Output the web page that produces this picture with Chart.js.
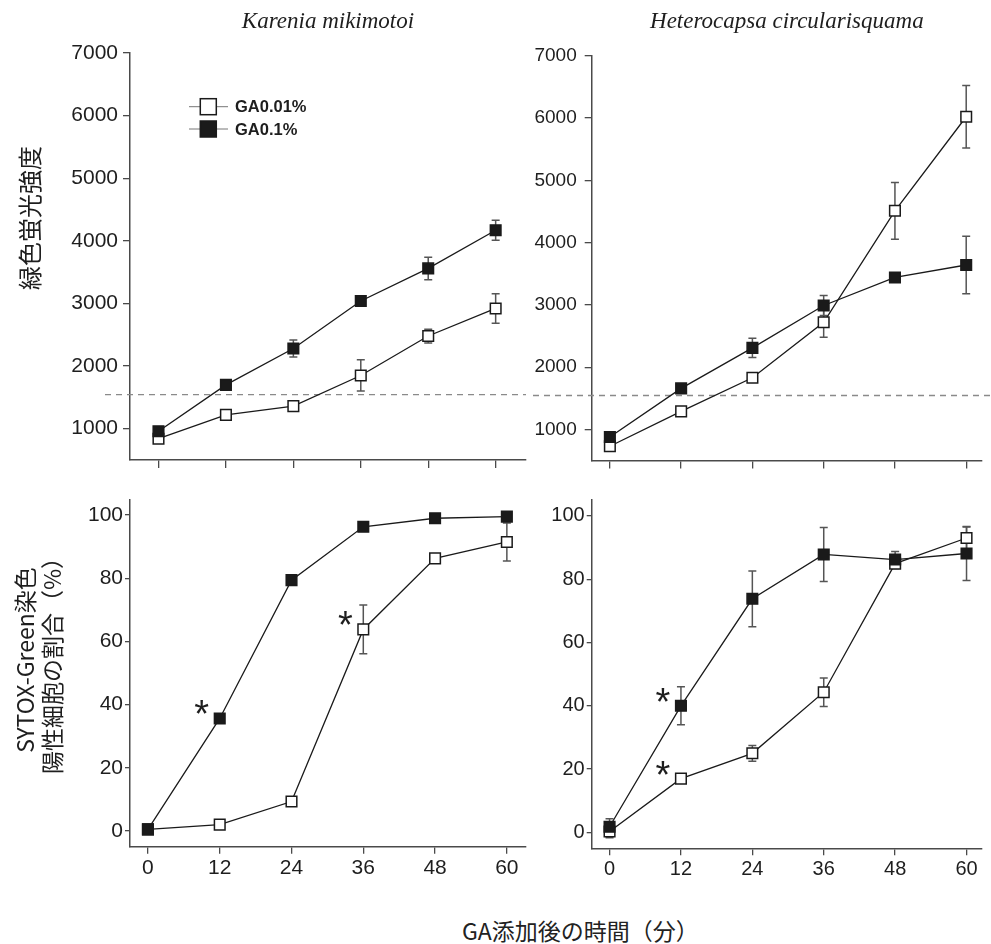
<!DOCTYPE html>
<html lang="ja">
<head>
<meta charset="utf-8">
<title>GA添加後の緑色蛍光強度とSYTOX-Green染色陽性細胞の割合</title>
<script src="https://cdn.jsdelivr.net/npm/chart.js@4.4.1/dist/chart.umd.min.js"></script>
<style>
  body { margin: 0; background: #fff; }
  #wrap { position: relative; width: 991px; height: 944px; overflow: hidden; background: #fff; }
  canvas { position: absolute; }
  #xTitle {
    position: absolute; left: 462px; top: 915px; line-height: 30px;
    font-size: 23px; font-family: "Noto Sans CJK JP", sans-serif;
    color: #222; white-space: nowrap;
  }
</style>
</head>
<body>
<div id="wrap">
  <canvas id="kmFluor" width="535" height="480" style="left:0;top:0;width:535px;height:480px"></canvas>
  <canvas id="hcFluor" width="471" height="480" style="left:520px;top:0;width:471px;height:480px"></canvas>
  <canvas id="kmSytox" width="535" height="420" style="left:0;top:480px;width:535px;height:420px"></canvas>
  <canvas id="hcSytox" width="471" height="420" style="left:520px;top:480px;width:471px;height:420px"></canvas>
  <div id="xTitle">GA添加後の時間（分）</div>
</div>
<script>
// time after GA addition (min)
const minutes = [0, 12, 24, 36, 48, 60];
const fluorTicks = [1000, 2000, 3000, 4000, 5000, 6000, 7000];
const percentTicks = [0, 20, 40, 60, 80, 100];
const seriesNames = ['GA0.01%', 'GA0.1%'];

// Karenia mikimotoi - green fluorescence
const kmFluorLow = [840, 1220, 1360, 1850, 2480, 2920];
const kmFluorLowErr = [40, 50, 50, 250, 110, 235];
const kmFluorHigh = [960, 1700, 2280, 3040, 3560, 4170];
const kmFluorHighErr = [40, 40, 135, 40, 180, 160];

// Heterocapsa circularisquama - green fluorescence
const hcFluorLow = [730, 1290, 1830, 2720, 4510, 6020];
const hcFluorLowErr = [50, 40, 50, 240, 455, 500];
const hcFluorHigh = [880, 1660, 2310, 2990, 3440, 3640];
const hcFluorHighErr = [40, 60, 155, 160, 40, 460];

// SYTOX-Green positive cells (%)
const kmSytoxLow = [0.5, 2, 9.3, 63.8, 86.3, 91.5];
const kmSytoxLowErr = [0.5, 1.5, 1, 7.7, 1, 6];
const kmSytoxHigh = [0.5, 35.6, 79.4, 96.3, 99, 99.5];
const kmSytoxHighErr = [0.5, 1, 0.8, 0.8, 0.8, 0.5];

const hcSytoxLow = [0.3, 17, 25, 44.3, 84.9, 93];
const hcSytoxLowErr = [2, 1, 2.5, 4.5, 1.5, 3.5];
const hcSytoxHigh = [1.8, 40, 73.8, 87.8, 86.2, 88.1];
const hcSytoxHighErr = [2.5, 6, 8.8, 8.5, 2.5, 8.5];

// dashed reference level on the fluorescence panels
const fluorThreshold = 1545;

// significant points: [series index, point index]
const kmStars = [[1, 1], [0, 3]];
const hcStars = [[1, 1], [0, 1]];

const textColor = '#1e1e1e';
const axisColor = '#4a4a4a';
const lineColor = '#1a1a1a';
Chart.defaults.font.family = '"Liberation Sans", Arial, sans-serif';

const errorBars = {
  id: 'errorBars',
  beforeDatasetsDraw(chart) {
    const ctx = chart.ctx, xs = chart.scales.x, ys = chart.scales.y;
    ctx.save();
    ctx.strokeStyle = '#555';
    ctx.lineWidth = 1.5;
    chart.data.datasets.forEach(ds => {
      ds.data.forEach((p, i) => {
        const e = ds.errors[i];
        const px = xs.getPixelForValue(p.x);
        const top = ys.getPixelForValue(p.y + e);
        const bot = ys.getPixelForValue(p.y - e);
        ctx.beginPath();
        ctx.moveTo(px, top); ctx.lineTo(px, bot);
        ctx.moveTo(px - 4, top); ctx.lineTo(px + 4, top);
        ctx.moveTo(px - 4, bot); ctx.lineTo(px + 4, bot);
        ctx.stroke();
      });
    });
    ctx.restore();
  }
};

const thresholdLine = {
  id: 'thresholdLine',
  beforeDatasetsDraw(chart, args, opts) {
    if (opts.value === undefined) return;
    const ctx = chart.ctx;
    const y = chart.scales.y.getPixelForValue(opts.value);
    ctx.save();
    ctx.strokeStyle = '#8a8a8a';
    ctx.lineWidth = 1.3;
    ctx.setLineDash([6, 5]);
    ctx.beginPath();
    ctx.moveTo(opts.from, y);
    ctx.lineTo(opts.to === 'area' ? chart.chartArea.right : chart.width, y);
    ctx.stroke();
    ctx.restore();
  }
};

const stars = {
  id: 'stars',
  afterDatasetsDraw(chart, args, opts) {
    if (!opts.marks) return;
    const ctx = chart.ctx;
    ctx.save();
    ctx.font = '38px "Liberation Sans"';
    ctx.fillStyle = textColor;
    ctx.textAlign = 'center';
    const m = ctx.measureText('*');
    const lift = (m.actualBoundingBoxAscent - m.actualBoundingBoxDescent) / 2;
    opts.marks.forEach(([s, i]) => {
      const el = chart.getDatasetMeta(s).data[i];
      ctx.fillText('*', el.x - 18, el.y - 11 + lift);
    });
    ctx.restore();
  }
};

const yTitle = {
  id: 'yTitle',
  afterDraw(chart, args, opts) {
    if (!opts.lines) return;
    const ctx = chart.ctx;
    ctx.save();
    ctx.font = opts.size + 'px "Noto Sans CJK JP"';
    ctx.fillStyle = textColor;
    ctx.textAlign = 'center';
    ctx.textBaseline = 'middle';
    opts.lines.forEach((t, k) => {
      ctx.save();
      ctx.translate(opts.x + k * opts.gap, opts.y);
      ctx.rotate(-Math.PI / 2);
      ctx.fillText(t, 0, 0);
      ctx.restore();
    });
    ctx.restore();
  }
};

const keyBox = {
  id: 'keyBox',
  afterDraw(chart, args, opts) {
    if (!opts.show) return;
    const ctx = chart.ctx;
    ctx.save();
    chart.data.datasets.forEach((ds, k) => {
      const y = 106.7 + k * 22.3;
      ctx.strokeStyle = '#777';
      ctx.lineWidth = 1;
      ctx.beginPath(); ctx.moveTo(189, y); ctx.lineTo(228, y); ctx.stroke();
      ctx.fillStyle = ds.pointBackgroundColor;
      ctx.strokeStyle = lineColor;
      ctx.lineWidth = 1.5;
      ctx.fillRect(200.3, y - 8, 16, 16);
      ctx.strokeRect(200.3, y - 8, 16, 16);
      ctx.fillStyle = textColor;
      ctx.font = 'bold 16.5px "Liberation Sans"';
      ctx.textBaseline = 'middle';
      ctx.fillText(ds.label, 235, y + 1);
    });
    ctx.restore();
  }
};

function series(k, values, errors) {
  return {
    label: seriesNames[k],
    data: minutes.map((t, i) => ({ x: t, y: values[i] })),
    errors: errors,
    order: k === 1 ? 0 : 1,
    borderColor: lineColor,
    borderWidth: 1.3,
    pointStyle: 'rect',
    pointRadius: 7.5,
    pointBackgroundColor: k === 1 ? '#1a1a1a' : '#ffffff',
    pointBorderColor: lineColor,
    pointBorderWidth: 1.5,
    tension: 0,
    fill: false,
    clip: false
  };
}

function panel(id, c) {
  return new Chart(document.getElementById(id), {
    type: 'line',
    data: {
      datasets: [series(0, c.low, c.lowErr), series(1, c.high, c.highErr)]
    },
    options: {
      responsive: false,
      animation: false,
      events: [],
      layout: { padding: c.padding },
      plugins: {
        legend: { display: false },
        tooltip: { enabled: false },
        title: c.title ? {
          display: true,
          text: c.title,
          fullSize: false,
          color: textColor,
          font: { family: '"Liberation Serif", serif', style: 'italic', weight: 'normal', size: 23 },
          padding: c.titlePad
        } : { display: false },
        thresholdLine: c.threshold || {},
        stars: { marks: c.stars },
        yTitle: c.yTitle || {},
        keyBox: { show: !!c.key }
      },
      scales: {
        x: {
          type: 'linear',
          min: c.xMin, max: c.xMax,
          afterBuildTicks: s => { s.ticks = minutes.map(v => ({ value: v })); },
          afterFit: s => { s.height = c.xHeight; },
          grid: { display: true, drawOnChartArea: false, drawTicks: true, tickLength: c.xTick, color: axisColor, lineWidth: 1.3 },
          border: { display: true, color: axisColor, width: 1.5 },
          ticks: { display: c.xLabels, color: textColor, padding: 2, maxRotation: 0, font: { size: c.xFont }, callback: v => String(v) }
        },
        y: {
          min: c.yMin, max: c.yMax,
          afterBuildTicks: s => { s.ticks = c.yTicks.map(v => ({ value: v })); },
          afterFit: s => { s.width = c.yWidth; },
          grid: { display: true, drawOnChartArea: false, drawTicks: true, tickLength: c.yTick, color: axisColor, lineWidth: 1.3 },
          border: { display: true, color: axisColor, width: 1.5 },
          ticks: { color: textColor, padding: c.yPad, font: { size: c.yFont }, callback: v => String(v) }
        }
      }
    },
    plugins: [thresholdLine, errorBars, stars, yTitle, keyBox]
  });
}

panel('kmFluor', {
  low: kmFluorLow, lowErr: kmFluorLowErr, high: kmFluorHigh, highErr: kmFluorHighErr,
  title: 'Karenia mikimotoi', titlePad: { top: 8, bottom: 17.4 },
  padding: { left: 0, right: 2, top: 0, bottom: 0 },
  xMin: -5.07, xMax: 65.4, xHeight: 20, xTick: 8, xLabels: false, xFont: 21,
  yMin: 500, yMax: 7000, yTicks: fluorTicks, yWidth: 130, yTick: 7, yPad: 5, yFont: 21,
  threshold: { value: fluorThreshold, from: 105, to: 'area' },
  yTitle: { lines: ['緑色蛍光強度'], x: 30, gap: 0, y: 218, size: 24 },
  key: true
});

panel('hcFluor', {
  low: hcFluorLow, lowErr: hcFluorLowErr, high: hcFluorHigh, highErr: hcFluorHighErr,
  title: 'Heterocapsa circularisquama', titlePad: { top: 8.2, bottom: 19.9 },
  padding: { left: 0, right: 0, top: 0, bottom: 0 },
  xMin: -3.06, xMax: 62.66, xHeight: 18.8, xTick: 8, xLabels: false, xFont: 20,
  yMin: 500, yMax: 7000, yTicks: fluorTicks, yWidth: 71.7, yTick: 7, yPad: 8, yFont: 19,
  threshold: { value: fluorThreshold, from: 13, to: 'edge' }
});

panel('kmSytox', {
  low: kmSytoxLow, lowErr: kmSytoxLowErr, high: kmSytoxHigh, highErr: kmSytoxHighErr,
  padding: { left: 0, right: 2, top: 19.3, bottom: 0 },
  xMin: -3.0, xMax: 63.2, xHeight: 53.3, xTick: 7, xLabels: true, xFont: 21,
  yMin: -5, yMax: 105, yTicks: percentTicks, yWidth: 130, yTick: 5, yPad: 2, yFont: 21,
  stars: kmStars,
  yTitle: { lines: ['SYTOX-Green染色', '陽性細胞の割合（%）'], x: 25, gap: 27.5, y: 180, size: 23 }
});

panel('hcSytox', {
  low: hcSytoxLow, lowErr: hcSytoxLowErr, high: hcSytoxHigh, highErr: hcSytoxHighErr,
  padding: { left: 0, right: 0, top: 20, bottom: 0 },
  xMin: -3.0, xMax: 62.6, xHeight: 51.7, xTick: 7, xLabels: true, xFont: 20,
  yMin: -5, yMax: 105, yTicks: percentTicks, yWidth: 71.7, yTick: 5, yPad: 2, yFont: 20,
  stars: hcStars
});
</script>
</body>
</html>
